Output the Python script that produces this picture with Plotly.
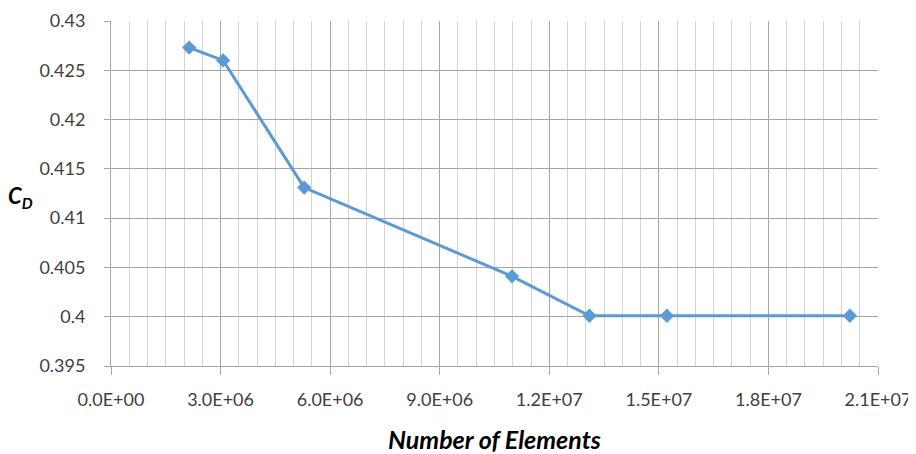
import plotly.graph_objects as go

elements = [2.14e6, 3.07e6, 5.29e6, 10.98e6, 13.1e6, 15.22e6, 20.23e6]
cd = [0.4273, 0.4260, 0.4131, 0.4041, 0.4001, 0.4001, 0.4001]

x_tickvals = [0, 3e6, 6e6, 9e6, 12e6, 15e6, 18e6, 21e6]
x_ticktext = ["0.0E+00", "3.0E+06", "6.0E+06", "9.0E+06", "1.2E+07", "1.5E+07", "1.8E+07", "2.1E+07"]
y_tickvals = [0.395, 0.4, 0.405, 0.41, 0.415, 0.42, 0.425, 0.43]
y_ticktext = ["0.395", "0.4", "0.405", "0.41", "0.415", "0.42", "0.425", "0.43"]

font_family = "Lato, 'Open Sans', sans-serif"

fig = go.Figure()
fig.add_trace(go.Scatter(
    x=elements, y=cd, mode="lines+markers",
    line=dict(color="#5B9BD5", width=3),
    marker=dict(symbol="diamond", size=11, color="#5B9BD5"),
    showlegend=False,
))

fig.add_annotation(
    text="<b><i>C<sub>D</sub></i></b>", xref="paper", yref="y",
    x=0, y=0.4121, xanchor="right", yanchor="middle", xshift=-76,
    showarrow=False, font=dict(family=font_family, size=22, color="#000000"),
)

fig.update_layout(
    width=908, height=446,
    margin=dict(l=103, r=38, t=13, b=88),
    paper_bgcolor="white", plot_bgcolor="white",
    font=dict(family=font_family, size=18, color="#404040"),
    xaxis=dict(
        range=[0, 21e6], tickvals=x_tickvals, ticktext=x_ticktext,
        automargin=False, ticklabeloverflow="allow",
        showgrid=True, gridcolor="#A6A6A6", gridwidth=1,
        minor=dict(dtick=5e5, tick0=0, showgrid=True, gridcolor="#D4D4D4", gridwidth=1),
        ticks="outside", ticklen=8, tickcolor="#A6A6A6",
        ticklabelstandoff=9,
        showline=True, linecolor="#A6A6A6", linewidth=1,
        zeroline=False, mirror=False,
        title=dict(text="<b><i>Number of Elements</i></b>", font=dict(size=25, color="#000000"), standoff=22),
    ),
    yaxis=dict(
        range=[0.395, 0.43], tickvals=y_tickvals, ticktext=y_ticktext,
        automargin=False, ticklabeloverflow="allow",
        showgrid=True, gridcolor="#A6A6A6", gridwidth=1,
        ticks="outside", ticklen=6, tickcolor="#A6A6A6",
        ticklabelstandoff=15,
        showline=True, linecolor="#A6A6A6", linewidth=1,
        zeroline=False,
    ),
)

fig.write_html("out.html")
